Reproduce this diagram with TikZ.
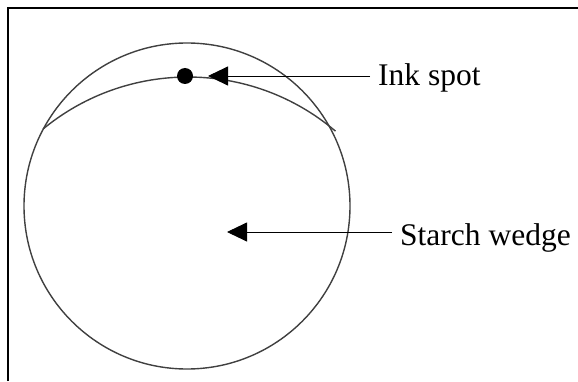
\documentclass[tikz,border=0pt]{standalone}
\usepackage{fontspec}
\setmainfont{Liberation Serif}
\usetikzlibrary{arrows.meta}
\begin{document}
\begin{tikzpicture}[x=1pt,y=1pt,
  rim/.style={line width=1.4pt,black!75},
  pointer/.style={line width=0.9pt,-{Triangle[length=20pt,width=19pt]},shorten <=8pt},
  lbl/.style={anchor=base west,inner sep=0pt,font=\fontsize{31.5}{36}\selectfont}]
\useasboundingbox (0,0) rectangle (578,381);
% Frame
\draw[line width=1.5pt] (8,0) -- (8,373) -- (578,373);
% Disc and wedge edge
\draw[rim] (187,175) circle[radius=163];
\draw[rim] (188,76) ++(129.5:228) arc[start angle=129.5,end angle=49.7,radius=228];
% Ink spot
\node[circle,fill=black,inner sep=0pt,minimum size=16pt] (spot) at (185,305) {};
\coordinate (spottip) at (208,305);
\coordinate (wedgetip) at (227,149);
% Labels
\node[lbl] (ink) at (378,295) {Ink spot};
\node[lbl] (starch) at (400,136) {Starch wedge};
\draw[pointer] (ink.west |- spottip) -- (spottip);
\draw[pointer] (starch.west |- wedgetip) -- (wedgetip);
\end{tikzpicture}
\end{document}
